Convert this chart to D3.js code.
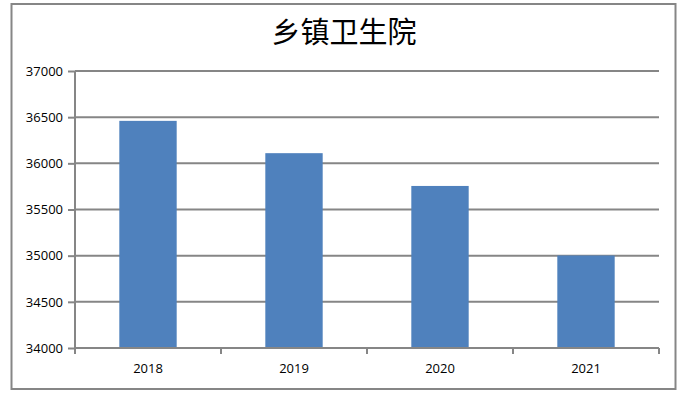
<!DOCTYPE html>
<html><head><meta charset="utf-8">
<script src="https://cdn.jsdelivr.net/npm/d3@7/dist/d3.min.js"></script>
<style>body{margin:0;background:#fff}svg{display:block}</style>
</head><body>
<svg id="c" width="686" height="394"></svg>
<script>
const categories = ["2018","2019","2020","2021"];
const values = [36460, 36110, 35755, 35002];
const yTicks = [34000,34500,35000,35500,36000,36500,37000];
const title = "乡镇卫生院";

const svg = d3.select("#c");
const W=686,H=394;
const m={left:75,right:659,top:71,bottom:348};
const grey="#868686";

svg.append("rect").attr("x",11.5).attr("y",4).attr("width",664).attr("height",385)
  .attr("fill","#fff").attr("stroke",grey).attr("stroke-width",2);

svg.append("text").attr("x",344).attr("y",43).attr("text-anchor","middle")
  .attr("font-family","'Noto Sans CJK SC'").attr("font-size",29).attr("fill","#000")
  .text(title);

const x=d3.scaleBand().domain(categories).range([m.left,m.right]).paddingInner(0.607).paddingOuter(0.3035);
const xb=d3.scaleBand().domain(categories).range([m.left,m.right]);
const y=d3.scaleLinear().domain([34000,37000]).range([m.bottom,m.top]);

// gridlines
svg.append("g").selectAll("line").data(yTicks.slice(1)).join("line")
  .attr("x1",m.left).attr("x2",m.right).attr("y1",d=>y(d)).attr("y2",d=>y(d))
  .attr("stroke",grey).attr("stroke-width",2);

// bars
svg.append("g").selectAll("rect").data(values).join("rect")
  .attr("x",(d,i)=>x(categories[i])).attr("width",x.bandwidth())
  .attr("y",d=>y(d)).attr("height",d=>y(34000)-y(d)).attr("fill","#4F81BD");

// y axis
const ya=svg.append("g").attr("transform",`translate(${m.left},0)`)
  .call(d3.axisLeft(y).tickValues(yTicks).tickFormat(d3.format("d")).tickSize(7).tickSizeOuter(0).tickPadding(5));
ya.select(".domain").remove();
ya.append("line").attr("x1",0).attr("x2",0).attr("y1",m.top).attr("y2",m.bottom+6).attr("stroke",grey).attr("stroke-width",2);
ya.selectAll(".tick line").attr("stroke",grey).attr("stroke-width",2);
ya.selectAll("text").attr("font-family","'Open Sans', sans-serif").attr("font-size",13).attr("fill","#000");

// x axis
const xa=svg.append("g").attr("transform",`translate(0,${m.bottom})`);
xa.append("line").attr("x1",m.left).attr("x2",m.right).attr("stroke",grey).attr("stroke-width",2);
xa.selectAll("line.t").data(categories).join("line").attr("class","t")
  .attr("x1",d=>xb(d)+xb.bandwidth()).attr("x2",d=>xb(d)+xb.bandwidth()).attr("y1",0).attr("y2",6)
  .attr("stroke",grey).attr("stroke-width",2);
xa.selectAll("text").data(categories).join("text")
  .attr("x",d=>xb(d)+xb.bandwidth()/2).attr("y",25).attr("text-anchor","middle")
  .attr("font-family","'Open Sans', sans-serif").attr("font-size",13).attr("fill","#000").text(d=>d);
</script>
</body></html>
